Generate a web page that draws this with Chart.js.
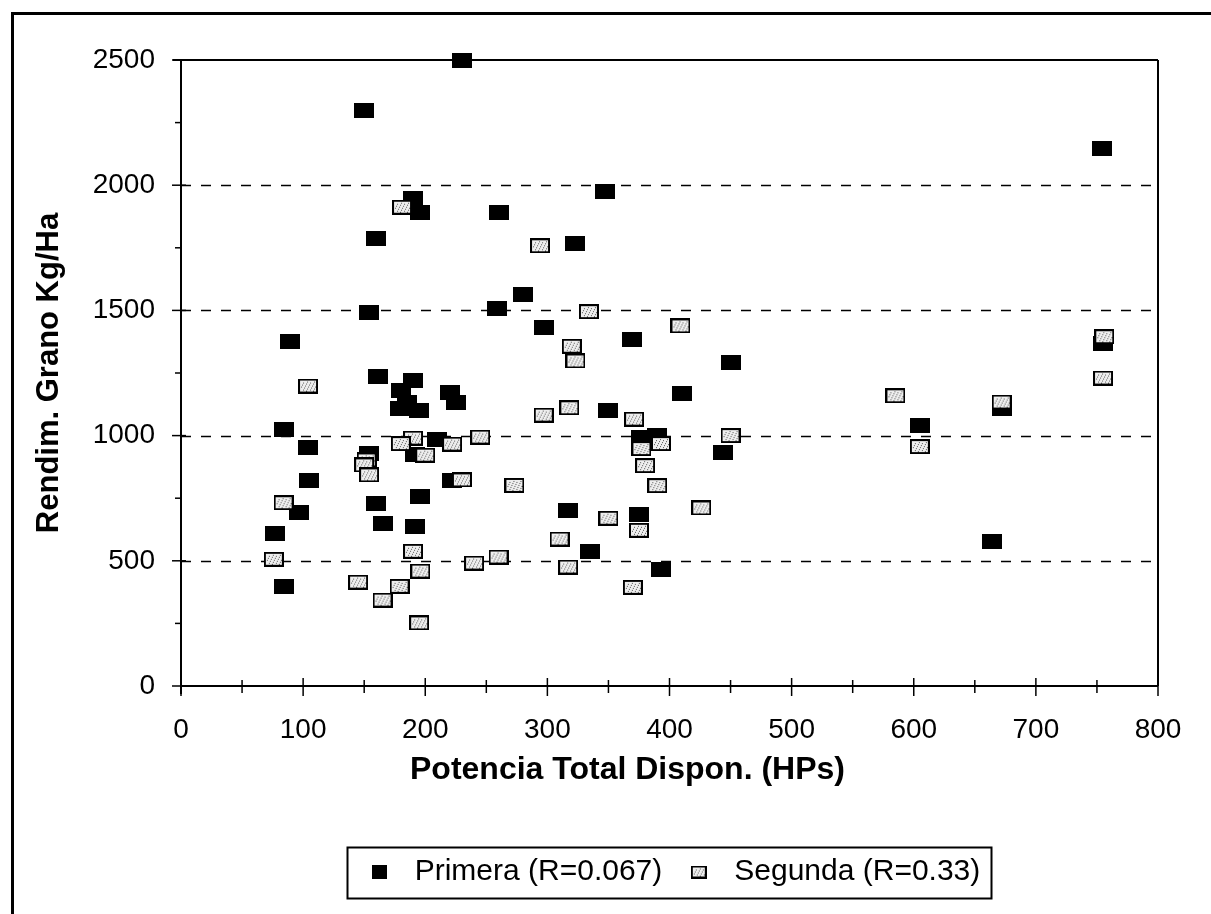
<!DOCTYPE html>
<html>
<head>
<meta charset="utf-8">
<script src="https://cdn.jsdelivr.net/npm/chart.js@4.4.0/dist/chart.umd.min.js"></script>
<style>
html,body{margin:0;padding:0;background:#fff;}
#wrap{width:1211px;height:914px;position:relative;}
</style>
</head>
<body>
<div id="wrap"><canvas id="c" width="1211" height="914"></canvas></div>
<script>
// ---- data ----
const seriesNames = ['Primera (R=0.067)', 'Segunda (R=0.33)'];
const xTitle = 'Potencia Total Dispon. (HPs)';
const yTitle = 'Rendim. Grano Kg/Ha';
const xTicks = [0, 100, 200, 300, 400, 500, 600, 700, 800];
const yTicks = [0, 500, 1000, 1500, 2000, 2500];

const primeraX = [230,150,754,347,190,196,260,160,323,280,259,154,297,369,89,755,450,161,190,180,220,410,225,185,179,672,195,350,605,84,390,377,210,104,444,154,192,105,222,196,160,317,97,375,165,192,77,664,335,393,84];
const primeraY = [2500,2298,2146,1973,1948,1892,1892,1788,1766,1565,1508,1492,1431,1385,1376,1367,1291,1238,1222,1179,1173,1169,1133,1133,1109,1108,1099,1099,1040,1025,1000,993,986,952,933,929,925,820,820,757,727,699,692,683,650,638,608,576,538,466,397];

const segundaX = [181,294,334,409,756,320,323,755,104,585,672,318,297,371,245,190,450,180,393,222,605,377,200,152,150,380,154,230,273,390,84,426,350,375,310,190,76,260,240,317,196,145,179,370,165,195];
const segundaY = [1912,1758,1495,1438,1395,1357,1298,1230,1198,1159,1134,1111,1082,1066,994,990,1000,968,968,966,956,948,922,903,883,880,843,823,801,800,732,711,670,622,587,538,506,515,491,475,459,415,398,394,343,252];

// ---- marker images ----
function makeMarker(w, h, kind) {
  const c = document.createElement('canvas');
  c.width = w; c.height = h;
  const g = c.getContext('2d');
  g.fillStyle = '#000';
  g.fillRect(0, 0, w, h);
  if (kind === 'stipple') {
    g.fillStyle = '#eeeeee';
    g.fillRect(2, 2, w - 4, h - 4);
    g.fillStyle = '#555555';
    for (let yy = 3; yy < h - 2; yy++) {
      for (let xx = 3; xx < w - 2; xx++) {
        if ((xx * 3 + yy * 5) % 7 === 0) g.fillRect(xx, yy, 1, 1);
      }
    }
  }
  return c;
}
const blackMarker = makeMarker(20, 15, 'solid');
const grayMarker = makeMarker(20, 15, 'stipple');
const legendBlack = makeMarker(15, 14, 'solid');
const legendGray = makeMarker(16, 13, 'stipple');

const FAMILY = "'Liberation Sans', Arial, sans-serif";

// ---- custom axes / grid / frame drawing ----
const framePlugin = {
  id: 'frame',
  beforeDatasetsDraw(chart) {
    const {ctx, chartArea: a, scales: {x, y}} = chart;
    const line = (x1, y1, x2, y2) => { ctx.beginPath(); ctx.moveTo(x1, y1); ctx.lineTo(x2, y2); ctx.stroke(); };
    ctx.save();
    ctx.strokeStyle = '#000';
    // dashed gridlines
    ctx.lineWidth = 1.5;
    ctx.setLineDash([10, 10]);
    yTicks.forEach(v => {
      if (v > yTicks[0] && v < yTicks[yTicks.length - 1]) {
        const py = Math.round(y.getPixelForValue(v)) + 0.5;
        line(a.left, py, a.right, py);
      }
    });
    ctx.setLineDash([]);
    // plot border top and right
    ctx.lineWidth = 2;
    const top = y.getPixelForValue(yTicks[yTicks.length - 1]);
    line(a.left - 8, top, a.right, top);
    line(a.right, top, a.right, a.bottom);
    // axes
    line(a.left, a.top, a.left, a.bottom + 8);
    line(a.left, a.bottom, a.right, a.bottom);
    // y ticks
    ctx.lineWidth = 1.5;
    for (let i = 0; i < yTicks.length; i++) {
      const py = y.getPixelForValue(yTicks[i]);
      line(a.left - 9, py, a.left + 5, py);
      if (i < yTicks.length - 1) {
        const pm = y.getPixelForValue((yTicks[i] + yTicks[i + 1]) / 2);
        line(a.left - 6, pm, a.left, pm);
      }
    }
    // x ticks
    for (let i = 0; i < xTicks.length; i++) {
      const px = x.getPixelForValue(xTicks[i]);
      line(px, a.bottom - 8, px, a.bottom + 10);
      if (i < xTicks.length - 1) {
        const pm = x.getPixelForValue((xTicks[i] + xTicks[i + 1]) / 2);
        line(pm, a.bottom - 6, pm, a.bottom + 7);
      }
    }
    ctx.restore();
  },
  afterDraw(chart) {
    const {ctx, chartArea: a} = chart;
    ctx.save();
    // x axis title (drawn slightly left of the plot centre, as in the reference)
    ctx.fillStyle = '#000';
    ctx.font = "bold 32px " + FAMILY;
    ctx.textAlign = 'center';
    ctx.textBaseline = 'middle';
    ctx.fillText(xTitle, (a.left + a.right) / 2 - 42, a.bottom + 84);
    ctx.strokeStyle = '#000';
    // outer frame (left and top)
    ctx.lineWidth = 3;
    ctx.beginPath();
    ctx.moveTo(12.5, 914);
    ctx.lineTo(12.5, 13.5);
    ctx.lineTo(1211, 13.5);
    ctx.stroke();
    // legend box
    const hb = chart.legend && chart.legend.legendHitBoxes;
    if (hb && hb.length) {
      const first = hb[0], last = hb[hb.length - 1];
      const cy = first.top + first.height / 2;
      const l = first.left - 12, r = last.left + last.width + 10;
      ctx.lineWidth = 2;
      ctx.strokeRect(Math.round(l) + 0.5, Math.round(cy - 25) + 0.5, Math.round(r - l), 51);
    }
    ctx.restore();
  }
};

new Chart(document.getElementById('c'), {
  type: 'scatter',
  data: {
    datasets: [
      {
        label: seriesNames[0],
        data: primeraX.map((v, i) => ({x: v, y: primeraY[i]})),
        pointStyle: blackMarker,
        pointRadius: 8,
        backgroundColor: '#000',
        borderColor: '#000',
        order: 1,
        clip: false
      },
      {
        label: seriesNames[1],
        data: segundaX.map((v, i) => ({x: v, y: segundaY[i]})),
        pointStyle: grayMarker,
        pointRadius: 8,
        backgroundColor: '#ddd',
        borderColor: '#000',
        order: 0,
        clip: false
      }
    ]
  },
  options: {
    responsive: false,
    animation: false,
    events: [],
    layout: {padding: {top: 60, right: 53, bottom: 17, left: 0}},
    scales: {
      x: {
        type: 'linear',
        position: 'bottom',
        min: xTicks[0],
        max: xTicks[xTicks.length - 1],
        afterBuildTicks: s => { s.ticks = xTicks.map(v => ({value: v})); },
        grid: {display: false},
        border: {display: false},
        ticks: {
          padding: 19, color: '#000', maxRotation: 0, autoSkip: false,
          font: {family: FAMILY, size: 28},
          callback: v => String(v)
        },
        title: {display: false, text: xTitle},
        afterFit: s => { s.height = 155; }
      },
      y: {
        type: 'linear',
        min: yTicks[0],
        max: yTicks[yTicks.length - 1],
        afterBuildTicks: s => { s.ticks = yTicks.map(v => ({value: v})); },
        grid: {display: false},
        border: {display: false},
        ticks: {
          padding: 18, color: '#000', autoSkip: false,
          font: {family: FAMILY, size: 28},
          callback: v => String(v)
        },
        title: {
          display: true, text: yTitle, color: '#000',
          font: {family: FAMILY, size: 31, weight: 'bold'},
          padding: {top: 31, bottom: 0}
        },
        afterFit: s => { s.width = 181; }
      }
    },
    plugins: {
      tooltip: {enabled: false},
      legend: {
        position: 'bottom',
        fullSize: false,
        align: 'center',
        labels: {
          usePointStyle: true,
          pointStyleWidth: 41,
          padding: 16,
          color: '#000',
          font: {family: FAMILY, size: 30},
          generateLabels: chart => chart.data.datasets.map((ds, i) => ({
            text: ds.label,
            pointStyle: i === 0 ? legendBlack : legendGray,
            datasetIndex: i,
            hidden: false,
            fillStyle: '#000',
            strokeStyle: '#000',
            lineWidth: 0,
            fontColor: '#000'
          }))
        }
      }
    }
  },
  plugins: [framePlugin]
});
</script>
</body>
</html>
